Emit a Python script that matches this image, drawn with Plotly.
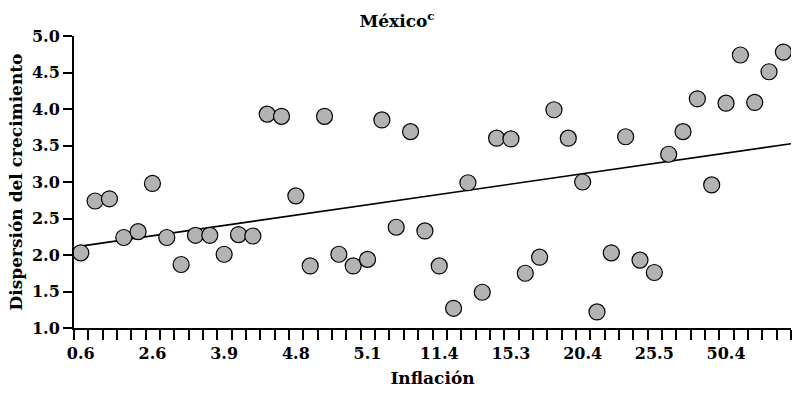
import numpy as np
import plotly.graph_objects as go

# Inflation tick labels (every fifth sorted observation is labelled)
tick_labels = ["0.6", "2.6", "3.9", "4.8", "5.1", "11.4", "15.3", "20.4", "25.5", "50.4"]
label_every = 5

# Growth dispersion for each observation, ordered by inflation
dispersion = [
    2.03, 2.74, 2.77, 2.24, 2.32, 2.98, 2.24, 1.87, 2.27, 2.27,
    2.01, 2.28, 2.26, 3.93, 3.90, 2.81, 1.85, 3.90, 2.01, 1.85,
    1.94, 3.85, 2.38, 3.69, 2.33, 1.85, 1.27, 2.99, 1.49, 3.60,
    3.59, 1.75, 1.97, 3.99, 3.60, 3.00, 1.22, 2.03, 3.62, 1.93,
    1.76, 3.38, 3.69, 4.14, 2.96, 4.08, 4.74, 4.09, 4.51, 4.78,
]

n = len(dispersion)
x_idx = np.arange(n)
slope, intercept = np.polyfit(x_idx, dispersion, 1)
x_lo, x_hi = -0.47, n - 0.47
trend_x = np.array([0, x_hi])
trend_y = intercept + slope * trend_x
x_range = [x_lo - 0.001, x_hi + 0.001]

FONT = "DejaVu Serif"

fig = go.Figure()
fig.add_trace(go.Scatter(
    x=trend_x, y=trend_y, mode="lines",
    line=dict(color="black", width=1.6),
    hoverinfo="skip", showlegend=False,
))
fig.add_trace(go.Scatter(
    x=x_idx, y=dispersion, mode="markers",
    marker=dict(size=16, color="#b3b3b3", line=dict(color="black", width=1.2)),
    showlegend=False,
))
# invisible trace so the label axis is rendered
fig.add_trace(go.Scatter(
    x=[x_idx[0]], y=[dispersion[0]], xaxis="x2", mode="markers",
    marker=dict(opacity=0), hoverinfo="skip", showlegend=False,
))

fig.update_layout(
    width=794, height=396,
    margin=dict(l=74, r=3, t=36, b=68),
    plot_bgcolor="white", paper_bgcolor="white",
    font=dict(family=FONT, size=16, color="black", weight="bold"),
    title=dict(
        text="México<sup>c</sup>", x=0.5, xref="container", xanchor="center",
        y=1 - 21 / 396, yref="container", yanchor="middle",
        font=dict(family=FONT, size=17, color="black", weight="bold"),
    ),
    xaxis=dict(
        range=x_range,
        tickmode="linear", tick0=x_lo, dtick=1,
        ticks="outside", ticklen=10, tickwidth=2, tickcolor="black",
        showticklabels=False,
        showline=True, linecolor="black", linewidth=2,
        showgrid=False, zeroline=False,
        title=dict(text="Inflación", standoff=33,
                   font=dict(family=FONT, size=17, weight="bold")),
    ),
    xaxis2=dict(
        range=x_range, overlaying="x", side="bottom", anchor="y",
        tickmode="array",
        tickvals=list(range(0, n, label_every))[:len(tick_labels)],
        ticktext=tick_labels,
        ticks="", showline=False, showgrid=False, zeroline=False,
        ticklabelstandoff=14,
        tickfont=dict(family=FONT, size=16, weight="bold"),
    ),
    yaxis=dict(
        range=[1, 5], dtick=0.5, tick0=1, tickformat=".1f",
        ticks="outside", ticklen=9, tickwidth=2, tickcolor="black",
        showline=True, linecolor="black", linewidth=2,
        showgrid=False, zeroline=False,
        tickfont=dict(family=FONT, size=16, weight="bold"),
        title=dict(text="Dispersión del crecimiento", standoff=5,
                   font=dict(family=FONT, size=17, weight="bold")),
    ),
)

fig.write_html("out.html")
